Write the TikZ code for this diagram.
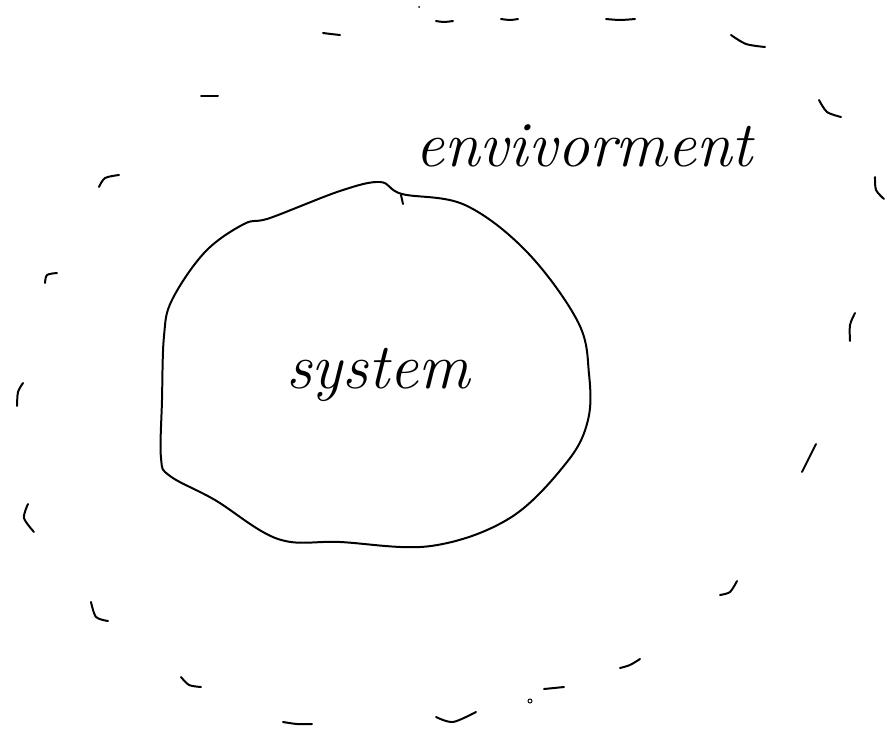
\documentclass[tikz,border=0pt]{standalone}
\begin{document}
\begin{tikzpicture}[x=0.03cm,y=-0.03cm,
  pen/.style={line width=1.7pt, line cap=round, line join=round},
  tick/.style={pen, line width=1.7pt},
  hand/.style={font=\fontsize{55}{62}\selectfont\itshape}]
\useasboundingbox (0,0) rectangle (887,731);

\draw[pen] plot[smooth cycle, tension=0.6] coordinates {(380,182) (402,194) (465,205) (527,252) (578,322) (589,374) (588,420) (567,462) (510,518) (431,546) (340,542) (278,539) (215,500) (170,476) (161,458) (162,400) (164,336) (172,300) (205,252) (244,224) (270,218) (340,191)};
\draw[tick] (401,195) -- (403,204);

\node[hand] (sys) at (378,375) {system};
\node[hand] (env) at (584,146) {envivorment};

% environment boundary
\draw[tick] plot[smooth] coordinates {(436,21) (444,22) (453,21)};
\draw[tick] plot[smooth] coordinates {(501,19) (510,20) (518,19)};
\draw[tick] plot[smooth] coordinates {(606,19) (620,20) (635,19)};
\draw[tick] plot[smooth] coordinates {(731,35) (746,44) (765,47)};
\draw[tick] plot[smooth] coordinates {(323,33) (331,34) (340,35)};
\draw[tick] plot[smooth] coordinates {(201,96) (209,96) (218,96)};
\draw[tick] plot[smooth] coordinates {(819,100) (827,112) (841,117)};
\draw[tick] plot[smooth] coordinates {(99,187) (105,178) (119,175)};
\draw[tick] plot[smooth] coordinates {(875,177) (876,190) (884,199)};
\draw[tick] plot[smooth] coordinates {(45,283) (47,275) (57,273)};
\draw[tick] plot[smooth] coordinates {(855,313) (850,325) (850,341)};
\draw[tick] plot[smooth] coordinates {(23,383) (18,392) (17,406)};
\draw[tick] plot[smooth] coordinates {(816,444) (809,458) (802,472)};
\draw[tick] plot[smooth] coordinates {(28,504) (24,518) (34,532)};
\draw[tick] plot[smooth] coordinates {(737,581) (730,592) (720,595)};
\draw[tick] plot[smooth] coordinates {(91,602) (96,617) (108,621)};
\draw[tick] plot[smooth] coordinates {(640,659) (630,665) (620,668)};
\draw[tick] plot[smooth] coordinates {(181,677) (189,685) (201,687)};
\draw[tick] plot[smooth] coordinates {(544,689) (554,688) (564,687)};
\draw[tick] plot[smooth] coordinates {(283,722) (297,724) (312,724)};
\draw[tick] plot[smooth] coordinates {(436,717) (453,722) (476,712)};
\fill (419,7) circle (1);
\draw[line width=0.8pt] (530,701) circle (2);
\end{tikzpicture}
\end{document}
